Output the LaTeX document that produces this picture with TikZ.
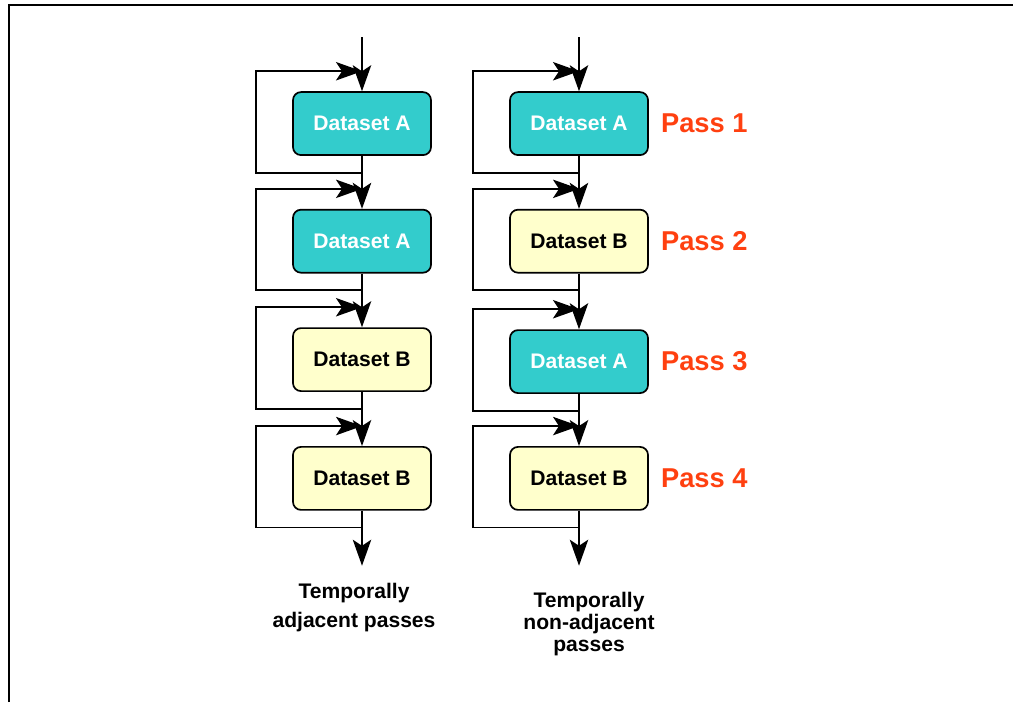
\documentclass[tikz,border=0pt]{standalone}
\usepackage{fontspec}
\setmainfont{Liberation Sans}
\usetikzlibrary{arrows.meta,positioning,calc}

\definecolor{setA}{HTML}{33CCCC}
\definecolor{setB}{HTML}{FFFFCC}
\definecolor{passred}{HTML}{FF4010}

\tikzset{
  box/.style={draw, line width=1.2pt, rounded corners=0.2cm, minimum width=3.45cm, minimum height=1.575cm, font=\fontsize{15}{18}\selectfont\bfseries},
  boxA/.style={box, fill=setA, text=white},
  boxB/.style={box, fill=setB, text=black},
  flow/.style={line width=1.2pt, -{Stealth[length=0.65cm, width=0.46cm, inset=0.15cm]}},
  passlab/.style={inner sep=0pt, text=passred, font=\fontsize{19.4}{23}\selectfont\bfseries},
  caption/.style={align=center, font=\fontsize{15}{20.6}\selectfont\bfseries}
}

\begin{document}
\begin{tikzpicture}
\useasboundingbox (0,0) rectangle (25.325,17.55);

% Frame
\draw[line width=2pt] (0.225,0) -- (0.225,17.425) -- (25.325,17.425);

% Left column
\foreach \i/\y/\sty/\lab in {1/14.46/boxA/A, 2/11.52/boxA/A, 3/8.56/boxB/B, 4/5.59/boxB/B} {
  \node[\sty] (l\i) at (9.05,\y) {Dataset \lab};
}

% Right column + pass labels
\foreach \i/\y/\sty/\lab in {1/14.46/boxA/A, 2/11.52/boxB/B, 3/8.51/boxA/A, 4/5.59/boxB/B} {
  \node[\sty] (r\i) at (14.475,\y) {Dataset \lab};
  \node[passlab, right=0.3cm of r\i] (p\i) {Pass \i};
}

% Main flow and feedback loops
\foreach \c in {l,r} {
  \coordinate (\c0) at ($(\c1.north)+(0,1.35)$);
  \coordinate (\c5) at ($(\c4.south)+(0,-1.375)$);
  \draw[flow] (\c0) -- (\c1);
  \foreach \a/\b in {1/2, 2/3, 3/4} {
    \draw[flow] (\c\a) -- (\c\b);
  }
  \draw[flow] (\c4) -- (\c5);
  \foreach \i in {1,...,4} {
    \coordinate (\c\i in) at ($(\c\i.north)+(0,0.5)$);
    \coordinate (\c\i out) at ($(\c\i.south)+(0,-0.42)$);
    \draw[flow] (\c\i out) -- ++(-2.65,0) |- (\c\i in);
  }
}

% Captions
\node[caption] (lcap) at (8.85,2.35) {Temporally\\adjacent passes};
\node[caption, font=\fontsize{15}{15.6}\selectfont\bfseries] (rcap) at (14.725,1.95) {Temporally\\non-adjacent\\passes};
\end{tikzpicture}
\end{document}
